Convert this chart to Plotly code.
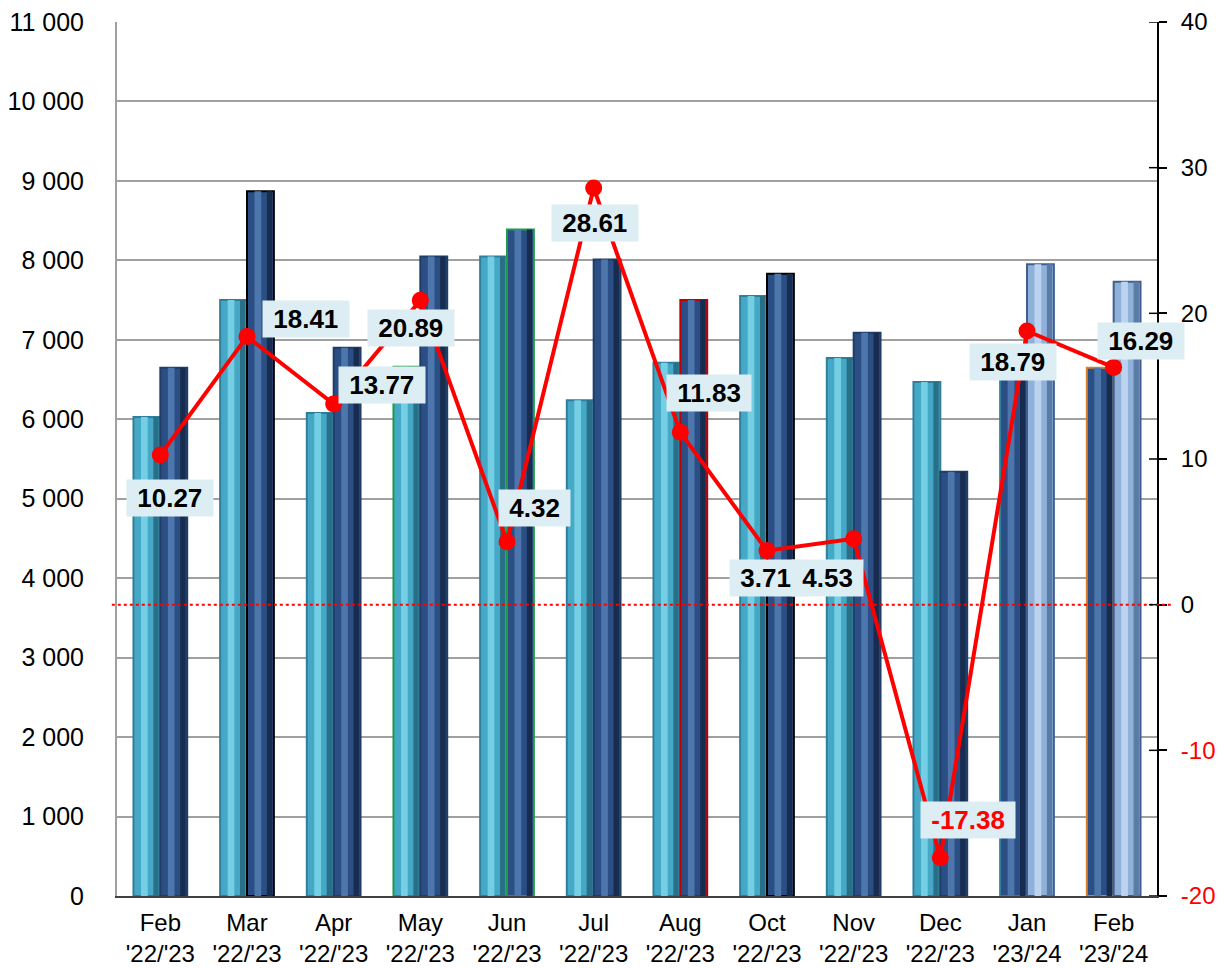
import plotly.graph_objects as go

categories = ["Feb<br>'22/'23", "Mar<br>'22/'23", "Apr<br>'22/'23", "May<br>'22/'23", "Jun<br>'22/'23",
              "Jul<br>'22/'23", "Aug<br>'22/'23", "Oct<br>'22/'23", "Nov<br>'22/'23", "Dec<br>'22/'23",
              "Jan<br>'23/'24", "Feb<br>'23/'24"]
series_a = [6030, 7500, 6080, 6660, 8050, 6240, 6710, 7550, 6770, 6470, 6650, 6650]
series_b = [6650, 8870, 6900, 8050, 8390, 8010, 7500, 7830, 7090, 5340, 7950, 7730]
growth = [10.27, 18.41, 13.77, 20.89, 4.32, 28.61, 11.83, 3.71, 4.53, -17.38, 18.79, 16.29]
left_ticks = list(range(0, 11001, 1000))
right_ticks = [-20, -10, 0, 10, 20, 30, 40]

# styling
TEAL = ("#44A8C6", "#74CFE4", "#2A6F88")
NAVY = ("#2B4F84", "#4C76AC", "#172C4E")
STEEL = ("#8FB0D8", "#BBD3EE", "#5A7BA6")
col_a = [TEAL] * 10 + [NAVY] * 2
col_b = [NAVY] * 10 + [STEEL] * 2
line_a = ["#2F7F9A"] * 3 + ["#1E9A4A"] + ["#2F7F9A"] * 7 + ["#D9822B"]
line_b = ["#1F3D66", "#000000", "#1F3D66", "#1F3D66", "#1E9A4A", "#1F3D66", "#C00000",
          "#000000", "#1F3D66", "#1F3D66", "#3F5F90", "#3F5F90"]
label_off = [(10, -43), (59, 17), (48, 19), (-9, -28), (27, 34), (1, -35), (29, 39),
             (-2, -27), (-26, -39), (28, 38), (-14, -31), (27, 26)]

W = 0.31
fig = go.Figure()
for vals, cols, lcols, off in [(series_a, col_a, line_a, -W), (series_b, col_b, line_b, 0.0)]:
    fig.add_trace(go.Bar(x=categories, y=vals, width=W, offset=off,
                         marker=dict(color=[c[0] for c in cols], line=dict(color=lcols, width=2)),
                         hoverinfo="skip", showlegend=False))
    fig.add_trace(go.Bar(x=categories, y=vals, width=W * 0.25, offset=off + W * 0.28,
                         marker=dict(color=[c[1] for c in cols], line=dict(width=0)),
                         hoverinfo="skip", showlegend=False))
    fig.add_trace(go.Bar(x=categories, y=vals, width=W * 0.2, offset=off + W * 0.74,
                         marker=dict(color=[c[2] for c in cols], line=dict(width=0)),
                         hoverinfo="skip", showlegend=False))

fig.add_trace(go.Scatter(x=categories, y=growth, yaxis="y2", mode="lines+markers",
                         line=dict(color="#FF0000", width=4),
                         marker=dict(color="#FF0000", size=17),
                         hoverinfo="skip", showlegend=False))

for cat, v, (dx, dy) in zip(categories, growth, label_off):
    fig.add_annotation(x=cat, y=v, yref="y2", text=f"&nbsp;<b>{v:.2f}</b>&nbsp;", showarrow=False,
                       xshift=dx, yshift=dy, bgcolor="#DCEEF4", borderpad=3,
                       font=dict(size=26, color="#FF0000" if v < 0 else "#000000",
                                 family="Liberation Sans, Arial, sans-serif"))

# zero reference line of right axis
fig.add_shape(type="line", xref="paper", yref="y2", x0=-0.005, x1=1.015, y0=0, y1=0,
              line=dict(color="#FF0000", width=2, dash="dot"), layer="above")
# inner half of crossing ticks on right axis
for t in right_ticks:
    fig.add_shape(type="line", xref="paper", yref="y2", x0=1 - 8 / 1040, x1=1, y0=t, y1=t,
                  line=dict(color="#000000", width=1.5), layer="above")

ticktext_r = [f"<span style='color:#FF0000'>{t}</span>" if t < 0 else str(t) for t in right_ticks]

fig.update_layout(
    width=1226, height=968,
    margin=dict(l=109, r=77, t=14, b=80, autoexpand=False),
    paper_bgcolor="white", plot_bgcolor="white",
    barmode="overlay",
    separators=". ",
    font=dict(family="Liberation Sans, Arial, sans-serif", size=24, color="#000000"),
    xaxis=dict(range=[-0.5, 11.5], showline=True, linecolor="#404040", linewidth=2, ticks="",
               tickfont=dict(size=24), showgrid=False, automargin=False,
               ticklabelstandoff=4),
    yaxis=dict(range=[0, 11000], tickvals=left_ticks, tickformat=",d",
               showgrid=True, gridcolor="#A0A0A0", gridwidth=2,
               showline=True, linecolor="#A0A0A0", linewidth=2, ticks="",
               ticklabelstandoff=26, automargin=False, ticklabeloverflow="allow",
               tickfont=dict(size=25), zeroline=False),
    yaxis2=dict(range=[-20, 40], overlaying="y", side="right", tickvals=right_ticks,
                ticktext=ticktext_r, showgrid=False, zeroline=False,
                showline=True, linecolor="#000000", linewidth=2,
                ticks="outside", ticklen=8, tickwidth=1.5, tickcolor="#000000",
                ticklabelstandoff=9, automargin=False, ticklabeloverflow="allow",
                tickfont=dict(size=24)),
)

fig.write_html("out.html")
